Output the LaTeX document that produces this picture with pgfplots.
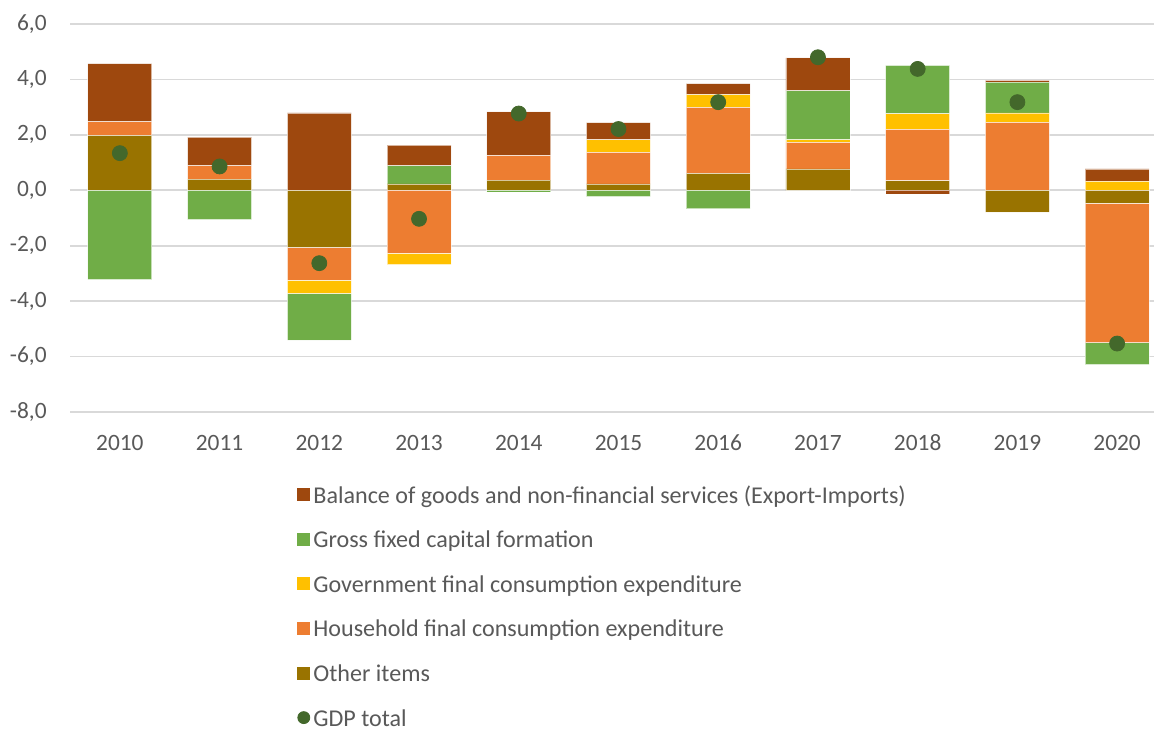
\documentclass[border=0pt]{standalone}
\usepackage{fontspec}
\setmainfont{Carlito}
\usepackage{pgfplots}
\usepackage{pgfplotstable}
\pgfplotsset{compat=1.18}
\definecolor{cBal}{HTML}{9E480E}
\definecolor{cGfcf}{HTML}{70AD47}
\definecolor{cGov}{HTML}{FFC000}
\definecolor{cHh}{HTML}{ED7D31}
\definecolor{cOth}{HTML}{997300}
\definecolor{cGdp}{HTML}{43682B}
\definecolor{cGrid}{HTML}{D9D9D9}
\definecolor{cText}{HTML}{595959}

\pgfplotstableread{
x oth hh gov gfcf bal gdp
0 1.98 0.49 0 -3.22 2.10 1.34
1 0.40 0.48 0 -1.06 1.04 0.86
2 -2.06 -1.18 -0.48 -1.69 2.79 -2.63
3 0.23 -2.27 -0.41 0.65 0.75 -1.03
4 0.37 0.88 0 -0.06 1.58 2.77
5 0.23 1.14 0.45 -0.23 0.62 2.21
6 0.61 2.38 0.46 -0.67 0.40 3.18
7 0.77 0.96 0.09 1.77 1.19 4.80
8 0.34 1.86 0.56 1.75 -0.14 4.38
9 -0.79 2.45 0.34 1.11 0.07 3.18
10 -0.46 -5.04 0.32 -0.79 0.45 -5.53
}\data

\pgfplotsset{
  base/.style={scale only axis, width=542pt, height=194pt,
    at={(35pt,159.5pt)}, anchor=south west,
    xmin=-0.5, xmax=10.37, ymin=-8, ymax=6,
    axis line style={draw=none}, major tick length=0pt},
  seg/.style={fill=#1, draw=white, draw opacity=0.6, line width=0.4pt},
}
\newcommand{\tf}{\fontsize{11.7}{14}\selectfont}
\newcommand{\lf}{\fontsize{12.05}{14}\selectfont}

\begin{document}
\begin{tikzpicture}
\useasboundingbox (0,0) rectangle (577pt,365.5pt);
% positive parts
\begin{axis}[base, ybar stacked, bar width=32pt,
  ymajorgrids, grid style={cGrid, line width=0.8pt},
  ytick={-8,-6,-4,-2,0,2,4,6},
  xtick={0,1,2,3,4,5,6,7,8,9,10},
  xticklabels={2010,2011,2012,2013,2014,2015,2016,2017,2018,2019,2020},
  yticklabel style={font=\tf, text=cText, anchor=east, inner sep=0pt, xshift=-11.5pt,
    /pgf/number format/.cd, fixed, fixed zerofill, precision=1, use comma, assume math mode=true},
  xticklabel style={font=\tf, text=cText, anchor=center, inner sep=0pt, yshift=-15.5pt},
]
\addplot[seg=cOth] table[x=x, y expr={max(\thisrow{oth},0)}] {\data};
\addplot[seg=cHh] table[x=x, y expr={max(\thisrow{hh},0)}] {\data};
\addplot[seg=cGov] table[x=x, y expr={max(\thisrow{gov},0)}] {\data};
\addplot[seg=cGfcf] table[x=x, y expr={max(\thisrow{gfcf},0)}] {\data};
\addplot[seg=cBal] table[x=x, y expr={max(\thisrow{bal},0)}] {\data};
\end{axis}
% negative parts
\begin{axis}[base, ybar stacked, bar width=32pt, xtick=\empty, ytick=\empty]
\addplot[seg=cOth] table[x=x, y expr={min(\thisrow{oth},0)}] {\data};
\addplot[seg=cHh] table[x=x, y expr={min(\thisrow{hh},0)}] {\data};
\addplot[seg=cGov] table[x=x, y expr={min(\thisrow{gov},0)}] {\data};
\addplot[seg=cGfcf] table[x=x, y expr={min(\thisrow{gfcf},0)}] {\data};
\addplot[seg=cBal] table[x=x, y expr={min(\thisrow{bal},0)}] {\data};
\end{axis}
% GDP dots and legend
\begin{axis}[base, xtick=\empty, ytick=\empty,
  legend cell align=left,
  legend style={draw=none, fill=none, at={(0.2094,-0.1900)}, anchor=north west,
    inner sep=0pt, row sep=13.8pt, font=\lf, text=cText,
    nodes={inner sep=0pt, text height=8.5pt, text depth=0pt},
    /tikz/every odd column/.append style={column sep=1.6pt}},
]
\addplot[only marks, mark=*, mark size=3.75pt, color=cGdp, forget plot] table[x=x, y=gdp] {\data};
\addlegendimage{legend image code/.code={\fill[cBal] (0pt,-3pt) rectangle (6pt,3pt);}}
\addlegendentry{Balance of goods and non-financial services (Export-Imports)}
\addlegendimage{legend image code/.code={\fill[cGfcf] (0pt,-3pt) rectangle (6pt,3pt);}}
\addlegendentry{Gross fixed capital formation}
\addlegendimage{legend image code/.code={\fill[cGov] (0pt,-3pt) rectangle (6pt,3pt);}}
\addlegendentry{Government final consumption expenditure}
\addlegendimage{legend image code/.code={\fill[cHh] (0pt,-3pt) rectangle (6pt,3pt);}}
\addlegendentry{Household final consumption expenditure}
\addlegendimage{legend image code/.code={\fill[cOth] (0pt,-3pt) rectangle (6pt,3pt);}}
\addlegendentry{Other items}
\addlegendimage{legend image code/.code={\fill[cGdp] (3pt,0pt) circle (3pt);}}
\addlegendentry{GDP total}
\end{axis}
\end{tikzpicture}
\end{document}
